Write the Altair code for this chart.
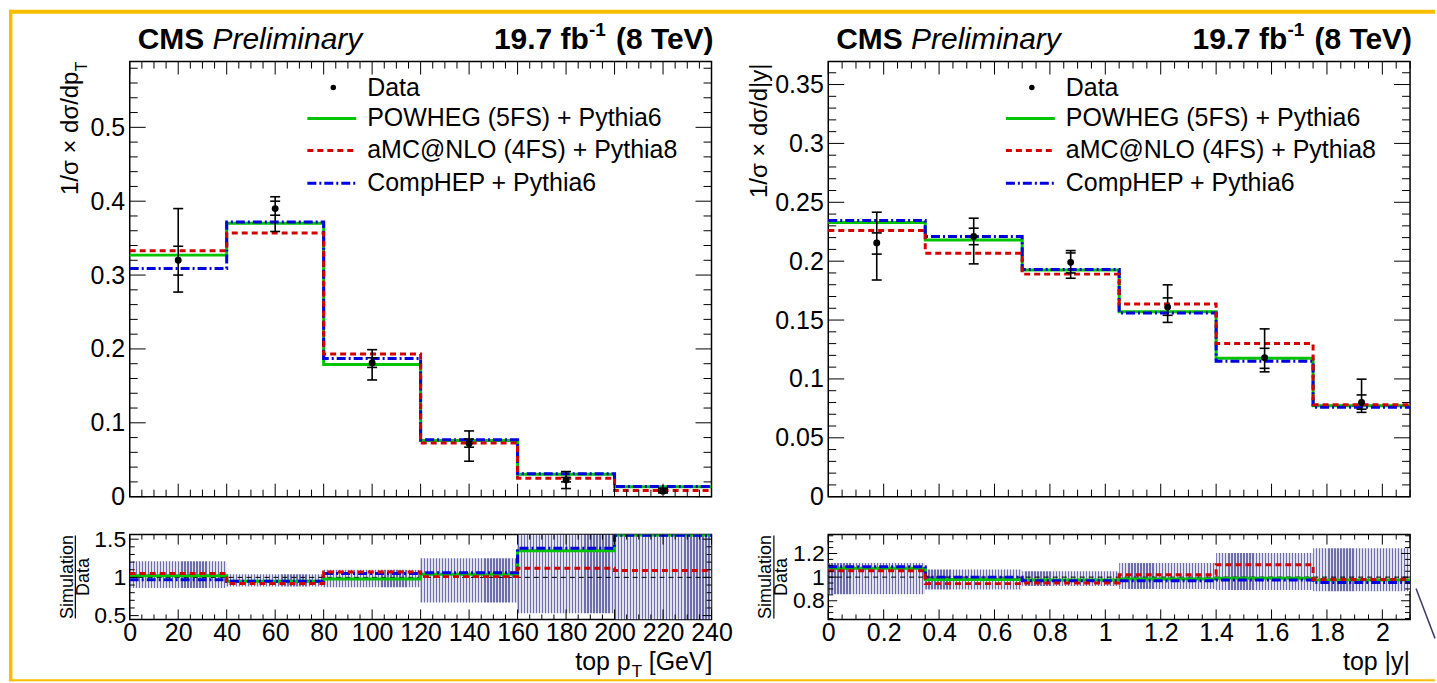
import altair as alt
import numpy as np
import pandas as pd

# ---------------- data ----------------
# top pT panel
pt_edges = [0, 40, 80, 120, 160, 200, 240]
pt_centers = [20, 60, 100, 140, 180, 220]
pt_data = [0.320, 0.390, 0.181, 0.072, 0.0225, 0.0075]
pt_tot_lo = [0.277, 0.359, 0.158, 0.048, 0.011, 0.0050]
pt_tot_hi = [0.390, 0.406, 0.199, 0.089, 0.034, 0.0115]
pt_stat_lo = [0.300, 0.381, 0.175, 0.067, 0.020, 0.0065]
pt_stat_hi = [0.339, 0.400, 0.188, 0.078, 0.026, 0.0090]
pt_powheg = [0.327, 0.370, 0.179, 0.076, 0.0305, 0.0135]
pt_amcnlo = [0.333, 0.357, 0.193, 0.0725, 0.025, 0.0082]
pt_comphep = [0.309, 0.372, 0.187, 0.077, 0.031, 0.0138]
# pT ratio panel
pt_r_powheg = [1.02, 0.95, 0.98, 1.04, 1.35, 1.555]
pt_r_amcnlo = [1.05, 0.92, 1.07, 1.01, 1.12, 1.09]
pt_r_comphep = [0.97, 0.95, 1.05, 1.06, 1.38, 1.55]
pt_band_lo = [0.86, 0.88, 0.87, 0.67, 0.53, 0.45]
pt_band_hi = [1.21, 1.04, 1.10, 1.25, 1.56, 1.56]

# top |y| panel
y_edges = [0, 0.35, 0.7, 1.05, 1.4, 1.75, 2.1]
y_centers = [0.175, 0.525, 0.875, 1.225, 1.575, 1.925]
y_data = [0.2155, 0.221, 0.199, 0.161, 0.118, 0.080]
y_tot_lo = [0.184, 0.1977, 0.1855, 0.148, 0.106, 0.0716]
y_tot_hi = [0.2416, 0.2365, 0.209, 0.1799, 0.1425, 0.0998]
y_stat_lo = [0.206, 0.214, 0.190, 0.154, 0.109, 0.0743]
y_stat_hi = [0.224, 0.228, 0.207, 0.1688, 0.126, 0.0864]
y_powheg = [0.2328, 0.218, 0.1925, 0.157, 0.1175, 0.0773]
y_amcnlo = [0.226, 0.2067, 0.189, 0.1637, 0.130, 0.078]
y_comphep = [0.2345, 0.2209, 0.1929, 0.156, 0.115, 0.0759]
# |y| ratio panel
y_r_powheg = [1.075, 0.98, 0.975, 0.985, 0.99, 0.975]
y_r_amcnlo = [1.055, 0.945, 0.95, 1.02, 1.105, 0.98]
y_r_comphep = [1.088, 1.0, 0.97, 0.97, 0.975, 0.955]
y_band_lo = [0.855, 0.895, 0.925, 0.90, 0.89, 0.88]
y_band_hi = [1.12, 1.065, 1.05, 1.12, 1.205, 1.245]

legend_labels = ["Data", "POWHEG (5FS) + Pythia6", "aMC@NLO (4FS) + Pythia8", "CompHEP + Pythia6"]
pt_xlabels = [0, 20, 40, 60, 80, 100, 120, 140, 160, 180, 200, 220, 240]
pt_ylabels = [0, 0.1, 0.2, 0.3, 0.4, 0.5]
pt_rlabels = [0.5, 1, 1.5]
y_xlabels = [0, 0.2, 0.4, 0.6, 0.8, 1, 1.2, 1.4, 1.6, 1.8, 2]
y_ylabels = [0, 0.05, 0.1, 0.15, 0.2, 0.25, 0.3, 0.35]
y_rlabels = [0.8, 1, 1.2]

# ---------------- styling ----------------
W, H, HR = 583, 436, 85
FONT = "Liberation Sans"
GREEN, RED, BLUE = "#00c400", "#d40000", "#0000e0"
ORANGE = "#f7be00"
ONE = pd.DataFrame({"k": [0]})


def sc(lo, hi):
    return alt.Scale(domain=[lo, hi], nice=False, zero=False)


def lab_axis(values, pad, size=25):
    return alt.Axis(values=values, format="~r", title="", ticks=False, tickSize=0,
                    domain=False, grid=False, labelFont=FONT, labelFontSize=size,
                    labelColor="black", labelPadding=pad, labelFlush=False,
                    labelOverlap=False)


def txt(s, x, y, size=24, weight="normal", style="normal", align="left",
        baseline="alphabetic", angle=0, color="black"):
    kw = dict(text=s, fontSize=size, font=FONT, fontWeight=weight, fontStyle=style,
              align=align, baseline=baseline, color=color)
    if angle:
        kw["angle"] = angle
    return alt.Chart(ONE).mark_text(**kw).encode(x=alt.value(x), y=alt.value(y))


def seg(x1, y1, x2, y2, color="black", width=1.0, dash=None):
    kw = dict(color=color, strokeWidth=width)
    if dash:
        kw["strokeDash"] = dash
    return alt.Chart(ONE).mark_rule(**kw).encode(
        x=alt.value(x1), y=alt.value(y1), x2=alt.value(x2), y2=alt.value(y2))


def box(x1, y1, x2, y2, color):
    return alt.Chart(ONE).mark_rect(color=color).encode(
        x=alt.value(x1), y=alt.value(y1), x2=alt.value(x2), y2=alt.value(y2))


def step_layer(edges, vals, X, Y, color, dash, clip=False):
    df = pd.DataFrame({"x": edges, "y": list(vals) + [vals[-1]]})
    kw = dict(color=color, strokeWidth=3, interpolate="step-after", clip=clip)
    if dash:
        kw["strokeDash"] = dash
    return alt.Chart(df).mark_line(**kw).encode(x=X("x"), y=Y("y"))


def tick_layers(X, Y, xmaj, xmin, ymaj, ymin, w, h, lx, ly):
    layers = []
    for vals, L in ((xmaj, lx[0]), (xmin, lx[1])):
        df = pd.DataFrame({"t": vals})
        for y0, y1 in ((h, h - L), (0, L)):
            layers.append(alt.Chart(df).mark_rule(color="black", strokeWidth=1).encode(
                x=X("t"), y=alt.value(y0), y2=alt.value(y1)))
    for vals, L in ((ymaj, ly[0]), (ymin, ly[1])):
        df = pd.DataFrame({"t": vals})
        for x0, x1 in ((0, L), (w, w - L)):
            layers.append(alt.Chart(df).mark_rule(color="black", strokeWidth=1).encode(
                y=Y("t"), x=alt.value(x0), x2=alt.value(x1)))
    return layers


def tick_vals(lo, hi, step, major_step, dom):
    allv = np.round(np.arange(lo, hi + step / 2, step), 6)
    allv = [float(v) for v in allv if dom[0] <= v <= dom[1]]
    maj = [v for v in allv if abs(v / major_step - round(v / major_step)) < 1e-6]
    mn = [v for v in allv if v not in maj]
    return maj, mn


def stripes(n=32, dark="#6e6eaa", light="#e2e2ee", frac=0.42):
    stops = []
    for i in range(n):
        a, m, b = i / n, (i + frac) / n, (i + 1) / n
        stops += [alt.GradientStop(offset=a, color=dark), alt.GradientStop(offset=m, color=dark),
                  alt.GradientStop(offset=m, color=light), alt.GradientStop(offset=b, color=light)]
    return alt.LinearGradient(gradient="linear", stops=stops, x1=0, x2=1, y1=0, y2=0)


STYLE = {"powheg": (GREEN, None), "comphep": (BLUE, [9, 3, 2, 3]), "amcnlo": (RED, [6, 4])}


def top_panel(edges, centers, data, tlo, thi, slo, shi, sims, xdom, ydom, ylabels,
              xt, yt, ytitle, frame):
    xs, ys = sc(*xdom), sc(*ydom)
    yax = lab_axis(ylabels, 5)

    def X(f):
        return alt.X(f + ":Q", scale=xs, axis=None)

    def Y(f):
        return alt.Y(f + ":Q", scale=ys, axis=yax)

    layers = []
    for key in ["powheg", "comphep", "amcnlo"]:
        col, dash = STYLE[key]
        layers.append(step_layer(edges, sims[key], X, Y, col, dash))
    err = pd.DataFrame({"x": centers, "y": data, "lo": tlo, "hi": thi})
    layers.append(alt.Chart(err).mark_rule(color="black", strokeWidth=1.6).encode(
        x=X("x"), y=Y("lo"), y2="hi:Q"))
    caps = pd.DataFrame({"x": list(centers) * 4, "c": list(tlo) + list(thi) + list(slo) + list(shi)})
    layers.append(alt.Chart(caps).mark_tick(orient="horizontal", size=10, thickness=1.6,
                                            color="black", opacity=1).encode(x=X("x"), y=Y("c")))
    layers.append(alt.Chart(err).mark_circle(size=48, color="black", opacity=1).encode(
        x=X("x"), y=Y("y")))
    # legend
    rows = [26, 57, 89, 122]
    layers.append(alt.Chart(ONE).mark_circle(size=30, color="black", opacity=1).encode(
        x=alt.value(204), y=alt.value(rows[0])))
    for key, r in zip(["powheg", "amcnlo", "comphep"], rows[1:]):
        col, dash = STYLE[key]
        layers.append(seg(178, r, 227, r, color=col, width=3, dash=dash))
    for lab, r in zip(legend_labels, rows):
        layers.append(txt(lab, 238, r, size=25, baseline="middle"))
    # header
    layers.append(txt("CMS", 8, -13, size=30, weight="bold"))
    layers.append(txt("Preliminary", 83, -13, size=30, style="italic"))
    layers.append(txt("(8 TeV)", 585, -13, size=30, weight="bold", align="right"))
    layers.append(txt("-1", 477, -26, size=19, weight="bold", align="right"))
    layers.append(txt("19.7 fb", 460, -13, size=30, weight="bold", align="right"))
    # y title
    for part in ytitle:
        layers.append(txt(part[0], part[1], part[2], size=part[3], align="right",
                          baseline="middle", angle=270))
    layers += tick_layers(X, Y, xt[0], xt[1], yt[0], yt[1], W, H, (13, 7), (16, 8))
    if frame:
        layers.append(box(-121, -52, 1308, -48, ORANGE))
        layers.append(box(-121, -52, -117.5, 621, ORANGE))
        layers.append(box(-121, 619, 1308, 621, ORANGE))
    return alt.layer(*layers).properties(width=W, height=H)


def ratio_panel(edges, rs, blo, bhi, xdom, rdom, xlabels, rlabels, xt, rt, xtitle, extra):
    xs, ys = sc(*xdom), sc(*rdom)
    xax, yax = lab_axis(xlabels, 1), lab_axis(rlabels, 4, size=23)

    def X(f):
        return alt.X(f + ":Q", scale=xs, axis=xax)

    def Y(f):
        return alt.Y(f + ":Q", scale=ys, axis=yax)

    layers = []
    band = pd.DataFrame({"x": edges[:-1], "x2": edges[1:], "y": blo, "y2": bhi})
    layers.append(alt.Chart(band).mark_rect(fill=stripes(), clip=True, strokeWidth=0).encode(
        x=X("x"), x2="x2:Q", y=Y("y"), y2="y2:Q"))
    layers.append(alt.Chart(pd.DataFrame({"y": [1.0]})).mark_rule(
        color="black", strokeWidth=1, strokeDash=[5, 4]).encode(
        x=alt.value(0), x2=alt.value(W), y=Y("y")))
    for key in ["powheg", "comphep", "amcnlo"]:
        col, dash = STYLE[key]
        layers.append(step_layer(edges, rs[key], X, Y, col, dash, clip=True))
    layers += tick_layers(X, Y, xt[0], xt[1], rt[0], rt[1], W, HR, (10, 5), (9, 5))
    # y title: Simulation / Data
    layers.append(txt("Simulation", -62, HR / 2, size=18, align="center", baseline="middle", angle=270))
    layers.append(seg(-54.5, 1, -54.5, 84, width=1.2))
    layers.append(txt("Data", -46, HR / 2, size=18, align="center", baseline="middle", angle=270))
    for part in xtitle:
        layers.append(txt(part[0], part[1], part[2], size=part[3], align=part[4]))
    layers += extra
    return alt.layer(*layers).properties(width=W, height=HR)


# tick positions
ptx = tick_vals(0, 240, 5, 20, (0, 240))
pty = tick_vals(0, 0.58, 0.02, 0.1, (0, 0.589))
ptr = tick_vals(0.5, 1.5, 0.1, 0.5, (0.45, 1.56))
yx = tick_vals(0, 2.1, 0.05, 0.2, (0, 2.1))
yy = tick_vals(0, 0.36, 0.01, 0.05, (0, 0.3695))
yr = tick_vals(0.65, 1.35, 0.05, 0.2, (0.642, 1.36))

topL = top_panel(pt_edges, pt_centers, pt_data, pt_tot_lo, pt_tot_hi, pt_stat_lo, pt_stat_hi,
                 {"powheg": pt_powheg, "amcnlo": pt_amcnlo, "comphep": pt_comphep},
                 (0, 240), (0, 0.589), pt_ylabels, ptx, pty,
                 [("1/σ × dσ/dp", -59, 10, 24), ("T", -48, 0, 16)], True)
topR = top_panel(y_edges, y_centers, y_data, y_tot_lo, y_tot_hi, y_stat_lo, y_stat_hi,
                 {"powheg": y_powheg, "amcnlo": y_amcnlo, "comphep": y_comphep},
                 (0, 2.1), (0, 0.3695), y_ylabels, yx, yy,
                 [("1/σ × dσ/d|y|", -68, 2, 24)], False)
ratL = ratio_panel(pt_edges, {"powheg": pt_r_powheg, "amcnlo": pt_r_amcnlo, "comphep": pt_r_comphep},
                   pt_band_lo, pt_band_hi, (0, 240), (0.45, 1.56), pt_xlabels, pt_rlabels, ptx, ptr,
                   [("top p", 502, 136, 25, "right"), ("T", 503, 143, 17, "left"),
                    ("[GeV]", 584, 136, 25, "right")], [])
ratR = ratio_panel(y_edges, {"powheg": y_r_powheg, "amcnlo": y_r_amcnlo, "comphep": y_r_comphep},
                   y_band_lo, y_band_hi, (0, 2.1), (0.642, 1.36), y_xlabels, y_rlabels, yx, yr,
                   [("top |y|", 583, 136, 25, "right")],
                   [seg(589, 54, 608, 104, color="#3c3c6c", width=1.5)])

chart = alt.concat(topL, topR, ratL, ratR, columns=2, spacing={"row": 38, "column": 117},
                   bounds="flush").properties(
    padding={"left": 8, "top": 8, "right": 0, "bottom": 0}, background="white"
).configure_view(stroke="black", strokeWidth=1.5)

chart.save("out.html", embed_options={"renderer": "svg", "actions": False})
